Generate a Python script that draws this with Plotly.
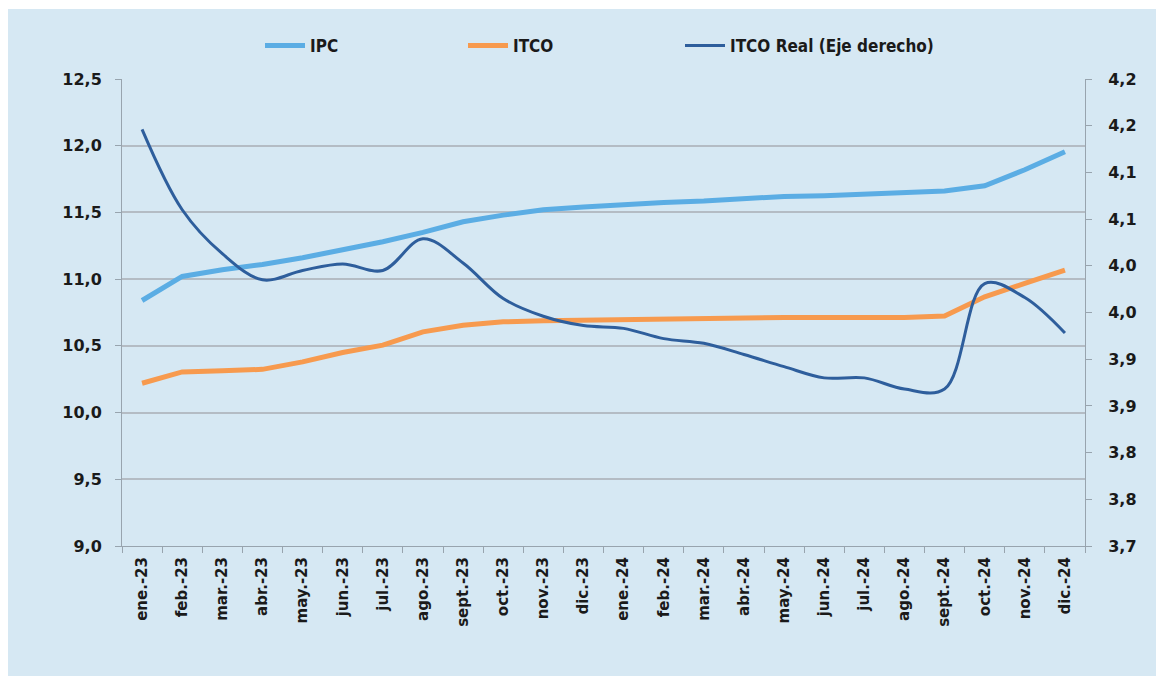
import plotly.graph_objects as go

months = ["ene.-23", "feb.-23", "mar.-23", "abr.-23", "may.-23", "jun.-23", "jul.-23", "ago.-23",
          "sept.-23", "oct.-23", "nov.-23", "dic.-23", "ene.-24", "feb.-24", "mar.-24", "abr.-24",
          "may.-24", "jun.-24", "jul.-24", "ago.-24", "sept.-24", "oct.-24", "nov.-24", "dic.-24"]

ipc = [10.84, 11.02, 11.07, 11.11, 11.16, 11.22, 11.28, 11.35, 11.43, 11.48, 11.52, 11.54,
       11.56, 11.575, 11.585, 11.605, 11.62, 11.625, 11.635, 11.65, 11.66, 11.70, 11.82, 11.955]

itco = [10.22, 10.305, 10.313, 10.324, 10.38, 10.45, 10.505, 10.605, 10.655, 10.68, 10.688, 10.693,
        10.70, 10.706, 10.706, 10.713, 10.713, 10.713, 10.713, 10.713, 10.723, 10.868, 10.968, 11.068]

itco_real = [4.146, 4.060, 4.013, 3.985, 3.995, 4.002, 3.995, 4.029, 4.003, 3.965, 3.946, 3.936,
             3.933, 3.922, 3.917, 3.905, 3.892, 3.880, 3.880, 3.868, 3.868, 3.981, 3.966, 3.928]

left_ticks = [9.0, 9.5, 10.0, 10.5, 11.0, 11.5, 12.0, 12.5]
left_ticktext = ["9,0", "9,5", "10,0", "10,5", "11,0", "11,5", "12,0", "12,5"]
right_ticks = [3.70, 3.75, 3.80, 3.85, 3.90, 3.95, 4.00, 4.05, 4.10, 4.15, 4.20]
right_ticktext = ["3,7", "3,8", "3,8", "3,9", "3,9", "4,0", "4,0", "4,1", "4,1", "4,2", "4,2"]

C_IPC = "#5BADE4"
C_ITCO = "#F79A4E"
C_REAL = "#2E5E9C"
BG = "#D6E8F3"
GRID = "#B4BCC4"
AXIS = "#98A4AE"
FONT = "DejaVu Sans"
LEG_FONT = "DejaVu Sans Condensed, Liberation Sans Narrow, DejaVu Sans"

fig = go.Figure()
fig.add_trace(go.Scatter(x=months, y=ipc, name="IPC", mode="lines",
                         line=dict(color=C_IPC, width=5), legend="legend"))
fig.add_trace(go.Scatter(x=months, y=itco, name="ITCO", mode="lines",
                         line=dict(color=C_ITCO, width=5), legend="legend2"))
fig.add_trace(go.Scatter(x=months, y=itco_real, name="ITCO Real (Eje derecho)", mode="lines",
                         line=dict(color=C_REAL, width=3, shape="spline", smoothing=1.0),
                         yaxis="y2", legend="legend3"))

# page body has an 8px margin, so the figure is sized/offset accordingly
W, H = 1156, 675
L, R, T, B = 114, 79, 71, 137
pw, ph = W - L - R, H - T - B

def px_x(x):
    return (x - L) / pw

def px_y(y):
    return (H - B - y) / ph

def legend_at(xpx):
    return dict(orientation="h", x=px_x(xpx), xanchor="left", y=px_y(38), yanchor="middle",
                font=dict(family=LEG_FONT, size=17, color="#1a1a1a", weight="bold"),
                bgcolor="rgba(0,0,0,0)", itemwidth=40)

fig.update_layout(
    width=W, height=H,
    margin=dict(l=L, r=R, t=T, b=B),
    paper_bgcolor="white",
    plot_bgcolor="rgba(0,0,0,0)",
    font=dict(family=FONT, color="#1a1a1a"),
    showlegend=True,
    legend=legend_at(252),
    legend2=legend_at(455),
    legend3=legend_at(672),
    xaxis=dict(type="category", range=[-0.5, len(months) - 0.5],
               showgrid=False, showline=True, linecolor=AXIS, linewidth=1,
               ticks="outside", ticklen=6, tickcolor=AXIS, tickson="boundaries",
               tickangle=-90, ticklabelstandoff=4,
               tickfont=dict(family=FONT, size=15, color="#1a1a1a", weight="bold"),
               zeroline=False),
    yaxis=dict(range=[9.0, 12.5], tickvals=left_ticks, ticktext=left_ticktext,
               showgrid=True, gridcolor=GRID, gridwidth=1.5, showline=True, linecolor=AXIS,
               ticks="outside", ticklen=6, tickcolor=AXIS, ticklabelstandoff=10,
               tickfont=dict(family=FONT, size=16, color="#1a1a1a", weight="bold"),
               zeroline=False),
    yaxis2=dict(range=[3.70, 4.20], tickvals=right_ticks, ticktext=right_ticktext,
                overlaying="y", side="right", showgrid=False, showline=True, linecolor=AXIS,
                ticks="outside", ticklen=6, tickcolor=AXIS, ticklabelstandoff=13,
                tickfont=dict(family=FONT, size=16, color="#1a1a1a", weight="bold"),
                zeroline=False),
    shapes=[dict(type="rect", xref="paper", yref="paper", layer="below",
                 x0=px_x(0), x1=px_x(1149), y0=px_y(668), y1=px_y(1),
                 fillcolor=BG, line=dict(width=0))],
)

fig.write_html("out.html")
